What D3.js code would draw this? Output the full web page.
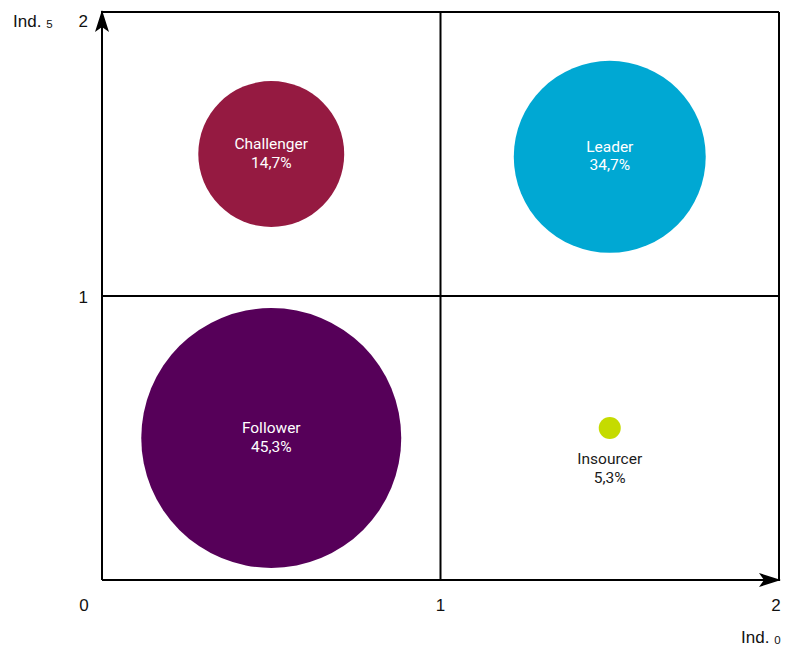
<!DOCTYPE html>
<html>
<head>
<meta charset="utf-8">
<script src="https://cdn.jsdelivr.net/npm/d3@7"></script>
<style>
  html, body { margin: 0; padding: 0; background: #fff; }
  svg { display: block; }
</style>
</head>
<body>
<svg id="chart" width="789" height="645"></svg>
<script>
// Segments of the portfolio matrix
const segments = ["Challenger", "Leader", "Follower", "Insourcer"];
const indX     = [0.5, 1.5, 0.5, 1.5];     // Ind. 0
const indY     = [1.5, 1.49, 0.5, 0.535];  // Ind. 5
const shares   = [14.7, 34.7, 45.3, 5.3];  // share of respondents, %
const bubble   = [31.5, 54.5, 100, 0.72];  // bubble size (area units)
const colors   = ["#951a41", "#00a8d3", "#560059", "#c5db00"];
const xTicks   = [1, 2];
const yTicks   = [1, 2];

const svg = d3.select("#chart");
const plotL = 102, plotR = 779, plotT = 12, plotB = 580;

const x = d3.scaleLinear().domain([0, 2]).range([plotL, plotR]);
const y = d3.scaleLinear().domain([0, 2]).range([plotB, plotT]);
const r = d3.scaleSqrt().domain([0, 100]).range([0, 130]);

const fmt = v => d3.format(".1f")(v).replace(".", ",") + "%";

// Arrowhead marker
const defs = svg.append("defs");
defs.append("marker")
  .attr("id", "arrow")
  .attr("viewBox", "0 0 22 14")
  .attr("refX", 21).attr("refY", 7)
  .attr("markerWidth", 22).attr("markerHeight", 14)
  .attr("markerUnits", "userSpaceOnUse")
  .attr("orient", "auto")
  .append("path")
  .attr("d", "M0,0 L22,7 L0,14 L5,7 Z")
  .attr("fill", "#000");

const rows = segments.map((s, i) => ({
  name: s, x: indX[i], y: indY[i], share: shares[i], size: bubble[i], color: colors[i]
}));

// Bubbles
const g = svg.append("g");
g.selectAll("circle").data(rows).join("circle")
  .attr("cx", d => x(d.x))
  .attr("cy", d => y(d.y))
  .attr("r", d => r(d.size))
  .attr("fill", d => d.color);

// Frame and quadrant dividers
const lines = svg.append("g").attr("stroke", "#000").attr("stroke-width", 2).attr("fill", "none");
lines.append("line").attr("x1", x(0)).attr("y1", y(2)).attr("x2", x(2)).attr("y2", y(2));
lines.append("line").attr("x1", x(2)).attr("y1", y(2)).attr("x2", x(2)).attr("y2", y(0));
lines.append("line").attr("x1", x(1)).attr("y1", y(0)).attr("x2", x(1)).attr("y2", y(2));
lines.append("line").attr("x1", x(0)).attr("y1", y(1)).attr("x2", x(2)).attr("y2", y(1));
// Axes with arrows
lines.append("line").attr("x1", x(0)).attr("y1", y(0)).attr("x2", x(2) + 1).attr("y2", y(0))
  .attr("marker-end", "url(#arrow)");
lines.append("line").attr("x1", x(0)).attr("y1", y(0)).attr("x2", x(0)).attr("y2", y(2) - 1)
  .attr("marker-end", "url(#arrow)");

// Labels on the bubbles: name and share as two separate lines
const labelFont = "Roboto, 'Liberation Sans', sans-serif";
const big = rows.filter(d => r(d.size) > 30);
const small = rows.filter(d => r(d.size) <= 30);

const lbl = svg.append("g").attr("font-family", labelFont).attr("font-size", 15.5)
  .attr("text-anchor", "middle");
big.forEach(d => {
  lbl.append("text").attr("fill", "#fff")
    .attr("x", x(d.x)).attr("y", y(d.y) - 5).text(d.name);
  lbl.append("text").attr("fill", "#fff")
    .attr("x", x(d.x)).attr("y", y(d.y) + 13.5).text(fmt(d.share));
});
small.forEach(d => {
  lbl.append("text").attr("fill", "#1a1a1a")
    .attr("x", x(d.x)).attr("y", y(d.y) + 36).text(d.name);
  lbl.append("text").attr("fill", "#1a1a1a")
    .attr("x", x(d.x)).attr("y", y(d.y) + 55).text(fmt(d.share));
});

// Tick labels
const axisFont = "'Liberation Sans', Arial, sans-serif";
const ticks = svg.append("g").attr("font-family", axisFont).attr("font-size", 17).attr("fill", "#111");
ticks.selectAll(".xt").data(xTicks).join("text")
  .attr("x", d => x(d) - (d === 2 ? 3 : 0)).attr("y", 611)
  .attr("text-anchor", "middle").text(d => d);
ticks.selectAll(".yt").data(yTicks).join("text")
  .attr("x", 88).attr("y", d => Math.max(y(d) + 7, 27))
  .attr("text-anchor", "end").text(d => d);
ticks.append("text").attr("x", 84).attr("y", 611).attr("text-anchor", "middle").text(0);

// Axis titles
const yt = ticks.append("text").attr("x", 13).attr("y", 27);
yt.append("tspan").text("Ind.");
yt.append("tspan").attr("dx", 5).attr("dy", 1).attr("font-size", 11.5).text("5");
const xt = ticks.append("text").attr("x", 741).attr("y", 642.5);
xt.append("tspan").text("Ind.");
xt.append("tspan").attr("dx", 5).attr("dy", 1).attr("font-size", 11.5).text("0");
</script>
</body>
</html>
